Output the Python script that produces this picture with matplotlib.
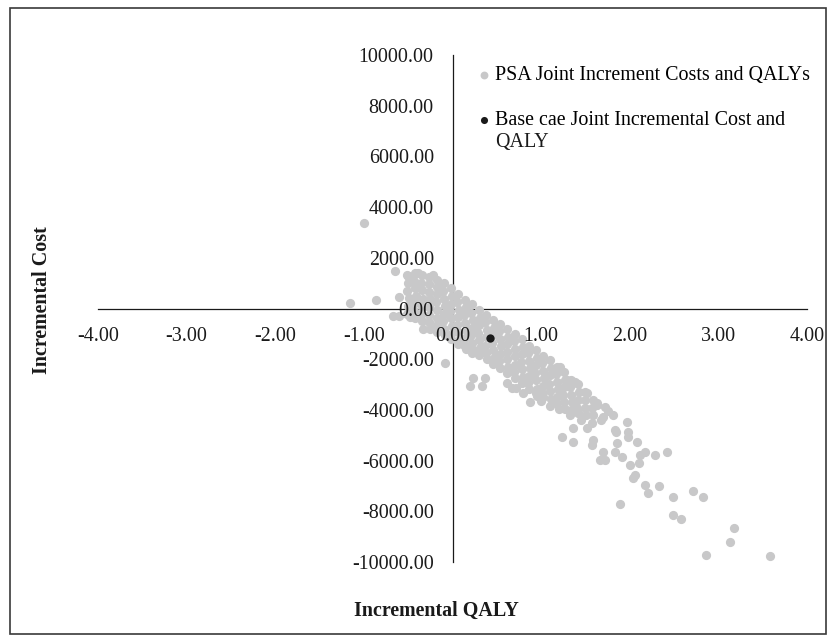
import matplotlib
matplotlib.use("Agg")
import matplotlib.pyplot as plt
from matplotlib.patches import Rectangle
from matplotlib.ticker import FormatStrFormatter

plt.rcParams['font.family'] = ['Liberation Serif', 'DejaVu Serif']

# PSA joint incremental QALY / cost pairs
psa_points = [
    # scattered points, upper left
    (-0.995, 3385), (-0.65, 1480), (-1.157, 205), (-0.863, 335), (-0.607, 466),
    (-0.668, -296), (-0.60, -280), (-0.51, 1320), (-0.386, 1412), (-0.224, 1320),
    (-0.48, -330), (-0.42, -340), (-0.367, -323), (-0.33, -800), (-0.085, -2137),
    # dense band
    (-0.50, 1290), (-0.50, 1010), (-0.51, 690), (-0.49, 420), (-0.50, 90), (-0.51, -210),
    (-0.42, 1400), (-0.43, 1080), (-0.42, 810), (-0.41, 480), (-0.42, 220), (-0.43, -90), (-0.42, -360),
    (-0.34, 1310), (-0.35, 990), (-0.34, 720), (-0.33, 390), (-0.34, 110), (-0.35, -210), (-0.34, -500),
    (-0.26, 1240), (-0.27, 960), (-0.26, 640), (-0.25, 360), (-0.26, 40), (-0.27, -260), (-0.26, -540), (-0.25, -790),
    (-0.18, 1140), (-0.17, 860), (-0.18, 560), (-0.19, 240), (-0.18, -40), (-0.17, -360), (-0.18, -650), (-0.18, -910),
    (-0.10, 990), (-0.11, 710), (-0.10, 390), (-0.09, 110), (-0.10, -210), (-0.11, -490), (-0.10, -800), (-0.09, -1040),
    (-0.02, 790), (-0.01, 510), (-0.02, 190), (-0.03, -110), (-0.02, -390), (-0.01, -710), (-0.02, -990), (-0.02, -1210),
    (0.06, 560), (0.05, 240), (0.07, -60), (0.06, -340), (0.05, -660), (0.06, -940), (0.07, -1250), (0.06, -1390),
    (0.14, 340), (0.15, 60), (0.13, -240), (0.14, -560), (0.15, -840), (0.14, -1160), (0.13, -1440), (0.15, -1610),
    (0.22, 160), (0.21, -160), (0.23, -440), (0.22, -760), (0.21, -1040), (0.22, -1360), (0.23, -1640), (0.22, -1760),
    (0.30, -40), (0.31, -360), (0.30, -640), (0.29, -960), (0.30, -1240), (0.31, -1560), (0.30, -1840),
    (0.38, -260), (0.37, -540), (0.39, -860), (0.38, -1140), (0.37, -1460), (0.38, -1740), (0.39, -2010),
    (0.46, -440), (0.47, -760), (0.46, -1040), (0.45, -1360), (0.46, -1640), (0.47, -1960), (0.46, -2190),
    (0.54, -610), (0.53, -890), (0.54, -1210), (0.55, -1490), (0.54, -1810), (0.53, -2090), (0.54, -2360),
    (0.62, -790), (0.63, -1110), (0.62, -1390), (0.61, -1710), (0.62, -1990), (0.63, -2310), (0.62, -2540),
    (0.70, -1010), (0.69, -1290), (0.70, -1610), (0.71, -1890), (0.70, -2210), (0.69, -2490), (0.70, -2760),
    (0.78, -1190), (0.79, -1510), (0.78, -1790), (0.77, -2110), (0.78, -2390), (0.79, -2710), (0.78, -2940),
    (0.86, -1460), (0.85, -1740), (0.86, -2060), (0.87, -2340), (0.86, -2660), (0.85, -2940), (0.86, -3160),
    (0.94, -1640), (0.95, -1960), (0.94, -2240), (0.93, -2560), (0.94, -2840), (0.95, -3160), (0.94, -3340),
    (1.02, -1860), (1.01, -2140), (1.02, -2460), (1.03, -2740), (1.02, -3060), (1.01, -3340), (1.02, -3510),
    (1.10, -2040), (1.11, -2360), (1.10, -2640), (1.09, -2960), (1.10, -3240), (1.11, -3560),
    (1.18, -2310), (1.17, -2590), (1.18, -2910), (1.19, -3190), (1.18, -3510), (1.17, -3740),
    (1.26, -2490), (1.27, -2810), (1.26, -3090), (1.25, -3410), (1.26, -3690), (1.27, -3960),
    (1.34, -2810), (1.33, -3090), (1.34, -3410), (1.35, -3690), (1.34, -4010),
    (1.42, -2990), (1.43, -3310), (1.42, -3590), (1.41, -3910), (1.42, -4140),
    (1.50, -3310), (1.49, -3590), (1.50, -3910), (1.51, -4190),
    (1.58, -3590), (1.57, -3910), (1.58, -4210),
    # ragged lower edge of the band
    (0.235, -2755), (0.198, -3045), (0.367, -2755), (0.33, -3045), (0.668, -3148),
    (0.62, -2950), (0.72, -3150), (0.80, -3350), (0.88, -3700), (0.95, -3450),
    (1.00, -3650), (1.10, -3850), (1.20, -3950), (1.33, -4220),
    # tail, lower right
    (1.213, -2296), (1.289, -2821), (1.383, -2887), (1.515, -3346), (1.628, -3807),
    (1.721, -3873), (1.815, -4201), (1.966, -4466), (1.834, -4793), (1.985, -4858),
    (1.232, -5057), (1.985, -5057), (1.364, -5254), (2.079, -5254), (1.571, -5385),
    (1.853, -5319), (1.702, -5649), (1.834, -5649), (2.173, -5649), (2.286, -5779),
    (2.417, -5649), (1.665, -5976), (1.721, -5976), (1.909, -5846), (2.116, -5779),
    (2.003, -6174), (2.109, -6107), (2.060, -6568), (2.034, -6699), (2.173, -6963),
    (2.331, -7002), (2.210, -7291), (2.492, -7424), (2.711, -7199), (2.831, -7424),
    (1.891, -7725), (2.492, -8146), (2.575, -8316), (3.177, -8647), (3.132, -9200),
    (2.857, -9724), (3.584, -9763),
    (1.59, -5187), (1.57, -4529), (1.70, -4268), (1.36, -4727), (1.68, -4400),
    (1.85, -4858), (1.63, -3740), (1.75, -4050), (1.45, -4400), (1.52, -4700),
]
psa_qaly = [p[0] for p in psa_points]
psa_cost = [p[1] for p in psa_points]

base_qaly = [0.42]
base_cost = [-1180]

x_ticks = [-4, -3, -2, -1, 0, 1, 2, 3, 4]
y_ticks = [-10000, -8000, -6000, -4000, -2000, 0, 2000, 4000, 6000, 8000, 10000]

W, H = 835, 642
fig = plt.figure(figsize=(W / 100, H / 100), dpi=100)
ax = fig.add_axes([98 / W, 80 / H, 709 / W, 507 / H])

ax.scatter(psa_qaly, psa_cost, s=44, color='#c8c8c9', linewidths=0, zorder=1,
           label='PSA Joint Increment Costs and QALYs')
ax.scatter(base_qaly, base_cost, s=36, color='#1a1a1a', linewidths=0, zorder=1.2,
           label='Base cae Joint Incremental Cost and')

ax.set_xlim(-4, 4)
ax.set_ylim(-10000, 10000)
ax.set_xticks(x_ticks)
ax.set_yticks(y_ticks)
ax.xaxis.set_major_formatter(FormatStrFormatter('%.2f'))
ax.yaxis.set_major_formatter(FormatStrFormatter('%.2f'))
ax.tick_params(axis='both', length=0, labelsize=14.4, colors='#1a1a1a')
ax.tick_params(axis='x', pad=13)
ax.tick_params(axis='y', pad=13.5)

for side in ['top', 'right']:
    ax.spines[side].set_visible(False)
for side in ['left', 'bottom']:
    ax.spines[side].set_position(('data', 0))
    ax.spines[side].set_linewidth(0.9)
    ax.spines[side].set_color('#1a1a1a')
    ax.spines[side].set_zorder(0.5)

ax.legend(loc='upper left', bbox_to_anchor=(478 / W, 1 - 66 / H),
          bbox_transform=fig.transFigure, frameon=False, fontsize=14.4,
          borderpad=0, borderaxespad=0, handlelength=0.6, handletextpad=0.25,
          labelspacing=1.3, markerscale=0.85)
# second line of the wrapped legend label
fig.text(495 / W, 1 - 142 / H, 'QALY', ha='left', va='center', fontsize=14.4, color='#1a1a1a')

fig.text(436 / W, 1 - 611 / H, 'Incremental QALY', ha='center', va='center',
         fontsize=14.4, fontweight='bold', color='#1a1a1a')
fig.text(42 / W, 1 - 300 / H, 'Incremental Cost', ha='center', va='center',
         rotation=90, fontsize=14.4, fontweight='bold', color='#1a1a1a')

fig.patches.append(Rectangle((10 / W, 8 / H), 816 / W, 626 / H, transform=fig.transFigure,
                             fill=False, edgecolor='#3a3a3a', linewidth=1.2))

fig.savefig('out.png', dpi=100)
